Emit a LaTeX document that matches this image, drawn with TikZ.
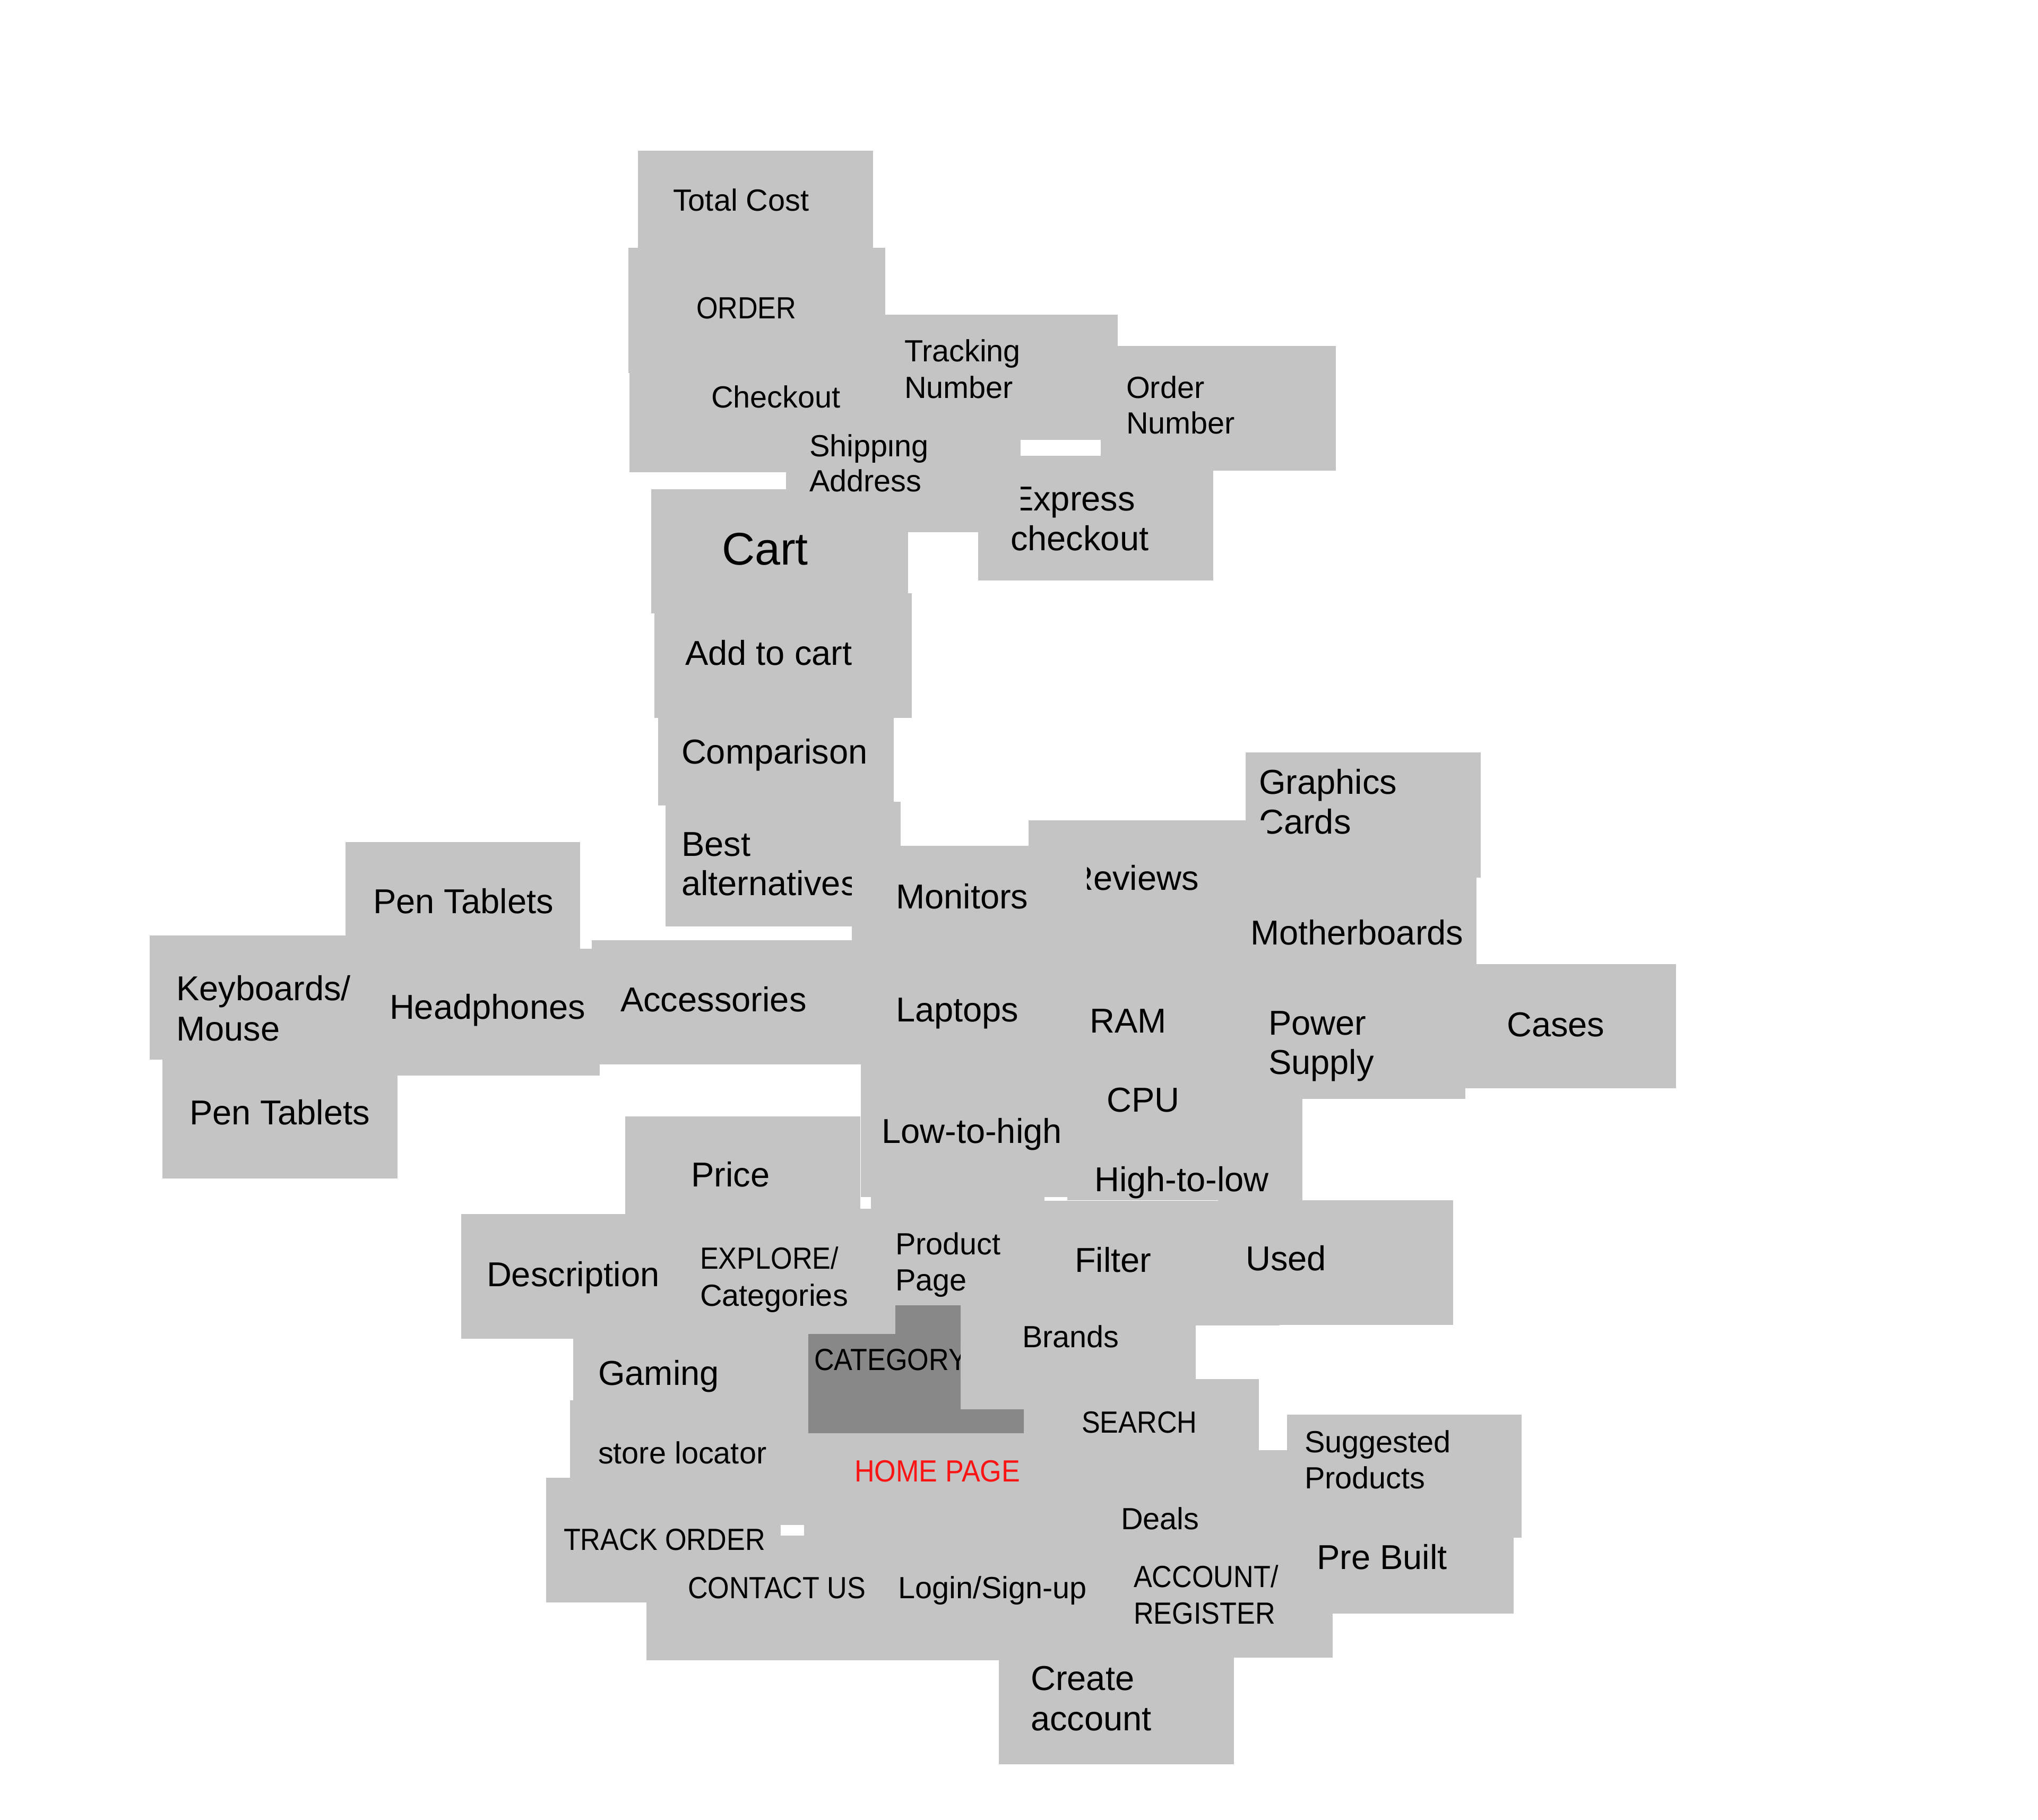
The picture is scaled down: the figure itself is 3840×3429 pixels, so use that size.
\documentclass[tikz,border=0pt]{standalone}
\usepackage{fontspec}
\newfontfamily\lsans{Liberation Sans}
\newfontfamily\lsanscond[FakeStretch=0.905]{Liberation Sans}
\newcommand\fsm{\lsans\fontsize{16.4}{19}\selectfont}
\newcommand\fsmc{\lsanscond\fontsize{16.4}{19}\selectfont}
\newcommand\fmd{\lsans\fontsize{18.5}{22}\selectfont}
\newcommand\flg{\lsans\fontsize{24.5}{29}\selectfont}
\definecolor{boxgrey}{RGB}{196,196,196}
\definecolor{darkgrey}{RGB}{136,136,136}
\definecolor{homered}{RGB}{250,20,20}
\tikzset{
  box/.style={fill=boxgrey},
  gap/.style={fill=white},
  txt/.style={anchor=base west, inner sep=0pt, outer sep=0pt, text=black},
  sm/.style={txt, font=\fsm},
  smc/.style={txt, font=\fsmc},
  md/.style={txt, font=\fmd},
  lg/.style={txt, font=\flg},
}
\begin{document}
\begin{tikzpicture}[x=0.01cm, y=-0.01cm]
\fill[white] (0,0) rectangle (3840,3429);
\useasboundingbox (0,0) rectangle (3840,3429);

% ---- grey boxes (top group)
\fill[box] (1202,284) rectangle (1645,470);   % Total Cost
\fill[box] (1184,467) rectangle (1668,703);   % ORDER
\fill[box] (1186,703) rectangle (1668,890);   % Checkout
\fill[box] (1668,593) rectangle (2106,829);   % Tracking Number
\fill[box] (2074,652) rectangle (2517,887);   % Order Number
\fill[box] (1481,775) rectangle (1923,1003);  % Shipping Address
\fill[box] (1843,859) rectangle (2286,1094);  % Express checkout
\fill[box] (1227,922) rectangle (1711,1156);  % Cart
\fill[box] (1233,1118) rectangle (1718,1353); % Add to cart
\fill[box] (1240,1353) rectangle (1684,1518); % Comparison
\fill[box] (1254,1511) rectangle (1697,1746); % Best alternatives
% ---- middle
\fill[box] (1605,1594) rectangle (2048,1830); % Monitors
\fill[box] (1938,1546) rectangle (2388,1782); % Reviews
\fill[box] (2347,1418) rectangle (2790,1654); % Graphics Cards
\fill[box] (2339,1581) rectangle (2782,1817); % Motherboards
\fill[box] (2715,1817) rectangle (3158,2051); % Cases
\fill[box] (2318,1790) rectangle (2761,2071); % Power Supply
\fill[box] (1990,1770) rectangle (2433,2109); % RAM / CPU
\fill[box] (2011,2025) rectangle (2454,2262); % High-to-low
\fill[box] (1605,1770) rectangle (2048,2006); % Laptops
\fill[box] (1622,2006) rectangle (2065,2256); % Low-to-high
\fill[box] (1115,1772) rectangle (1605,2006); % Accessories
\fill[box] (687,1788) rectangle (1130,2027);   % Headphones
\fill[box] (651,1587) rectangle (1093,1800);   % Pen Tablets (top)
\fill[box] (282,1763) rectangle (725,1997);    % Keyboards/Mouse
\fill[box] (306,1997) rectangle (749,2221);    % Pen Tablets (bottom)
\fill[box] (1178,2104) rectangle (1621,2340); % Price
\fill[box] (869,2288) rectangle (1312,2523);  % Description
\fill[box] (1280,2278) rectangle (1687,2514); % EXPLORE
\fill[box] (1641,2250) rectangle (1968,2290);
\fill[box] (1621,2278) rectangle (2100,2514); % Product Page
\fill[box] (1968,2263) rectangle (2411,2498); % Filter
\fill[box] (2295,2262) rectangle (2738,2497); % Used
% ---- bottom
\fill[box] (1810,2460) rectangle (2253,2599); % Brands
\fill[box] (1810,2590) rectangle (1935,2665);
\fill[box] (1929,2599) rectangle (2372,2733); % SEARCH
\fill[box] (2425,2666) rectangle (2867,2898); % Suggested Products
\fill[box] (2409,2805) rectangle (2852,3041); % Pre Built
\fill[box] (2068,2888) rectangle (2511,3124); % ACCOUNT/REGISTER
\fill[box] (1882,3089) rectangle (2325,3325); % Create account
\fill[box] (1500,2690) rectangle (2372,2900); % HOME PAGE
\fill[box] (2372,2733) rectangle (2425,2900);
\fill[box] (1080,2500) rectangle (1530,2639); % Gaming
\fill[box] (1074,2639) rectangle (1530,2874); % store locator
\fill[box] (1029,2785) rectangle (1472,3020); % TRACK ORDER
\fill[box] (1218,2893) rectangle (1900,3129); % CONTACT US
\fill[box] (1650,2893) rectangle (2093,3129); % Login/Sign-up

% ---- dark CATEGORY box
\fill[darkgrey] (1687,2460) -- (1810,2460) -- (1810,2656) -- (1929,2656)
  -- (1929,2701) -- (1523,2701) -- (1523,2514) -- (1687,2514) -- cycle;

% ---- white gaps
\fill[gap] (1923,829) rectangle (2074,859);
\fill[gap] (1621,2256) rectangle (1641,2278);
\fill[gap] (1968,2256) rectangle (2010,2263);
\fill[gap] (1471,2874) rectangle (1515,2894);

% ---- texts (small)
\node[sm]  (tcost)   at (1268,397)  {Total Cost};
\node[smc] (order)   at (1312,600)  {ORDER};
\node[sm]  (chk)     at (1340,768)  {Checkout};
\node[sm]  (trk1)    at (1704,681)  {Tracking};
\node[sm]  (trk2)    at (1704,750)  {Number};
\node[sm]  (onum1)   at (2122,750)  {Order};
\node[sm]  (onum2)   at (2122,817)  {Number};
\node[sm]  (ship1)   at (1525,860)  {Shipping};
\node[sm]  (ship2)   at (1525,926)  {Address};
\node[smc] (expl1)   at (1319,2391) {EXPLORE/};
\node[sm]  (expl2)   at (1319,2461) {Categories};
\node[sm]  (prod1)   at (1687,2364) {Product};
\node[sm]  (prod2)   at (1687,2432) {Page};
\node[sm]  (brands)  at (1926,2539) {Brands};
\node[smc] (categ)   at (1534,2582) {CATEGORY};
\node[smc] (search)  at (2038,2700) {SEARCH};
\node[smc, text=homered] (home) at (1610,2792) {HOME PAGE};
\node[sm]  (sugg1)   at (2458,2737) {Suggested};
\node[sm]  (sugg2)   at (2458,2805) {Products};
\node[sm]  (deals)   at (2112,2882) {Deals};
\node[sm]  (store)   at (1127,2758) {store locator};
\node[smc] (trackord) at (1062,2921) {TRACK ORDER};
\node[smc] (contact) at (1296,3012) {CONTACT US};
\node[sm]  (login)   at (1692,3012) {Login/Sign-up};
\node[smc] (acc1)    at (2136,2991) {ACCOUNT/};
\node[smc] (acc2)    at (2136,3060) {REGISTER};
% ---- texts (medium)
\node[md] (expr1)   at (1904,962)  {Express};
\node[md] (expr2)   at (1904,1037) {checkout};
\node[lg] (cart)    at (1360,1064) {Cart};
\node[md] (addcart) at (1291,1253) {Add to cart};
\node[md] (compar)  at (1284,1439) {Comparison};
\node[md] (best1)   at (1284,1613) {Best};
\node[md] (best2)   at (1284,1687) {alternatives};
\node[md] (pent1)   at (703,1721)  {Pen Tablets};
\node[md] (kb1)     at (332,1885)  {Keyboards/};
\node[md] (kb2)     at (332,1961)  {Mouse};
\node[md] (headph)  at (734,1920)  {Headphones};
\node[md] (access)  at (1169,1906) {Accessories};
\node[md] (pent2)   at (357,2119)  {Pen Tablets};
\node[md] (monit)   at (1688,1712) {Monitors};
\node[md] (review)  at (2013,1677) {Reviews};
\node[md] (gc1)     at (2372,1496) {Graphics};
\node[md] (gc2)     at (2372,1571) {Cards};
\node[md] (mobo)    at (2356,1780) {Motherboards};
\node[md] (ram)     at (2053,1946) {RAM};
\node[md] (pow1)    at (2390,1950) {Power};
\node[md] (pow2)    at (2390,2024) {Supply};
\node[md] (cases)   at (2839,1953) {Cases};
\node[md] (laptop)  at (1688,1925) {Laptops};
\node[md] (cpu)     at (2085,2095) {CPU};
\node[md] (lowhigh) at (1661,2154) {Low-to-high};
\node[md] (highlow) at (2062,2245) {High-to-low};
\node[md] (price)   at (1302,2236) {Price};
\node[md] (descr)   at (917,2424)  {Description};
\node[md] (filter)  at (2025,2397) {Filter};
\node[md] (used)    at (2347,2394) {Used};
\node[md] (gaming)  at (1127,2610) {Gaming};
\node[md] (prebuilt) at (2481,2957) {Pre Built};
\node[md] (create1) at (1942,3185) {Create};
\node[md] (create2) at (1942,3261) {account};

% ---- overlapping boxes that hide parts of texts
\fill[box] (1880,900) rectangle (1923,1000);  % Shipping box over "Express"
\fill[box] (1668,800) rectangle (1770,829);   % Tracking box over "Shipping"
\fill[box] (2355,1546) rectangle (2388,1600); % Reviews box over "Cards"
\fill[box] (1990,1610) rectangle (2048,1700); % Monitors box over "Reviews"
\fill[box] (1605,1640) rectangle (1650,1705); % Monitors box over "alternatives"
\fill[box] (1810,2530) rectangle (1870,2600); % Brands box over "CATEGORY"
\fill[box] (2409,2930) rectangle (2440,3005); % Pre Built box over "ACCOUNT/"
\end{tikzpicture}
\end{document}
